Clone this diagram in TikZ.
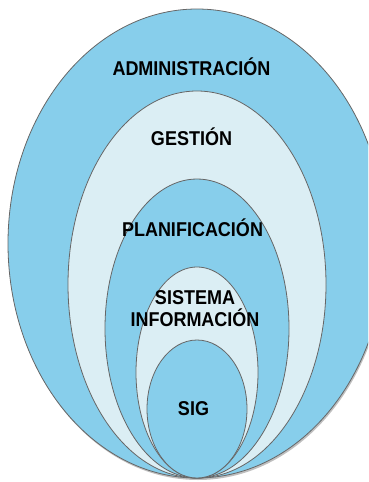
\documentclass[tikz,border=0pt]{standalone}
\usepackage{fontspec}
\newfontfamily\labelfont[FakeStretch=0.9]{Liberation Sans}
\usetikzlibrary{positioning,shadows}

\definecolor{ringblue}{RGB}{135,206,235}
\definecolor{ringlight}{RGB}{219,238,244}

\begin{document}
\begin{tikzpicture}[x=1pt, y=-1pt,
	ring/.style = { draw=black!60, line width=0.8pt },
	label/.style = { font=\labelfont\bfseries\fontsize{20}{24}\selectfont,
	align=center, text=black, inner sep=0pt } ]

  \useasboundingbox (0,0) rectangle (368,482);
  \clip (0,0) rectangle (368,482);

  % nested rings, all touching at the bottom
  \fill [black!25] (198,245.5) ellipse [x radius=189, y radius=234.5];
  \filldraw [ring, fill=ringblue]  (197,243.5) ellipse [x radius=189, y radius=234.5];
  \filldraw [ring, fill=ringlight] (197,284.5) ellipse [x radius=129, y radius=193.5];
  \filldraw [ring, fill=ringblue]  (197,328.5) ellipse [x radius=92, y radius=149.5];
  \filldraw [ring, fill=ringlight] (197,372.5) ellipse [x radius=61, y radius=105.5];
  \filldraw [ring, fill=ringblue]  (197,409)   ellipse [x radius=50, y radius=69];

  \node [name=admin, label] at (194,67) { ADMINISTRACIÓN };
  \node [name=gestion, label] at (194,137) { GESTIÓN };
  \node [name=plan, label] at (195,228) { PLANIFICACIÓN };
  \node [name=sistema, label] at (195,309) { SISTEMA\\[-2pt] INFORMACIÓN };
  \node [name=sig, label] at (196,409) { SIG };
\end{tikzpicture}
\end{document}
